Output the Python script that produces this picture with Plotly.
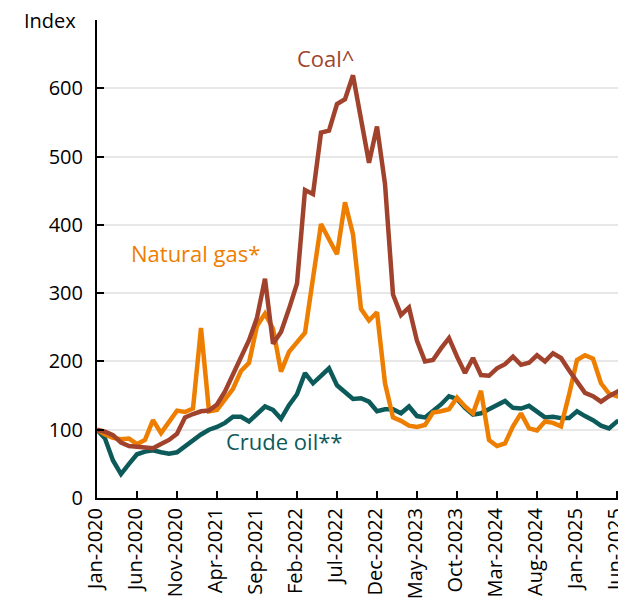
import plotly.graph_objects as go

month_names = ["Jan", "Feb", "Mar", "Apr", "May", "Jun", "Jul", "Aug", "Sep", "Oct", "Nov", "Dec"]
years = [2020, 2021, 2022, 2023, 2024, 2025]
months = [f"{m}-{y}" for y in years for m in month_names][:67]  # Jan-2020 .. Jul-2025

coal = [100, 97, 92, 81, 76, 75, 74, 73, 79, 85, 94, 118, 123, 127, 128, 137, 156, 182, 209, 231,
        264, 321, 226, 243, 277, 314, 451, 445, 535, 538, 577, 584, 619, 558, 491, 544, 460, 298,
        268, 279, 230, 200, 202, 219, 234, 207, 183, 205, 180, 179, 190, 196, 207, 195, 198, 209,
        200, 212, 205, 187, 170, 154, 149, 141, 149, 156, 162]

natural_gas = [100, 93, 88, 86, 87, 79, 85, 114, 95, 112, 128, 126, 131, 249, 127, 129, 144, 160,
               186, 198, 252, 270, 248, 185, 214, 229, 242, 322, 401, 379, 357, 433, 386, 277, 260,
               272, 168, 118, 113, 106, 104, 107, 125, 127, 130, 147, 134, 124, 157, 85, 76, 80,
               105, 124, 102, 99, 112, 110, 105, 151, 202, 209, 204, 168, 153, 149, 158]

crude_oil = [100, 87, 55, 35, 50, 64, 68, 70, 67, 65, 67, 76, 83, 93, 100, 104, 110, 119, 119, 112,
             123, 134, 129, 116, 136, 152, 183, 168, 179, 190, 165, 154, 145, 146, 141, 127, 130,
             130, 124, 134, 120, 118, 127, 137, 149, 145, 132, 122, 124, 130, 136, 142, 132, 131,
             135, 127, 118, 119, 117, 117, 127, 120, 114, 106, 102, 112, 112]

tick_labels = ["Jan-2020", "Jun-2020", "Nov-2020", "Apr-2021", "Sep-2021", "Feb-2022", "Jul-2022",
               "Dec-2022", "May-2023", "Oct-2023", "Mar-2024", "Aug-2024", "Jan-2025", "Jun-2025"]
y_ticks = [0, 100, 200, 300, 400, 500, 600]

colors = {"coal": "#A1432C", "gas": "#EE7E00", "oil": "#0D5A5A"}
FONT = "Open Sans"

fig = go.Figure()
fig.add_trace(go.Scatter(x=months, y=crude_oil, mode="lines",
                         line=dict(color=colors["oil"], width=4.5), name="Crude oil**"))
fig.add_trace(go.Scatter(x=months, y=natural_gas, mode="lines",
                         line=dict(color=colors["gas"], width=4.5), name="Natural gas*"))
fig.add_trace(go.Scatter(x=months, y=coal, mode="lines",
                         line=dict(color=colors["coal"], width=4.5), name="Coal^"))

fig.add_annotation(x=28.6, y=645, text="Coal^", showarrow=False, xref="x", yref="y",
                   font=dict(family=FONT, size=22, color=colors["coal"]))
fig.add_annotation(x=12.3, y=359, text="Natural gas*", showarrow=False, xref="x", yref="y",
                   font=dict(family=FONT, size=22, color=colors["gas"]))
fig.add_annotation(x=23.4, y=84, text="Crude oil**", showarrow=False, xref="x", yref="y",
                   font=dict(family=FONT, size=22, color=colors["oil"]))
fig.add_annotation(x=0, y=700, text="Index", showarrow=False, xref="paper", yref="y",
                   xanchor="right", xshift=-19, yanchor="middle",
                   font=dict(family=FONT, size=20, color="black"))

# The page body adds an 8px offset, so the figure is sized 8px smaller on each axis.
fig.update_layout(
    width=618, height=594,
    margin=dict(l=89, r=1, t=12, b=104),
    paper_bgcolor="white", plot_bgcolor="white",
    showlegend=False,
    font=dict(family=FONT, size=20, color="black"),
)
fig.update_xaxes(
    type="category", range=[0, 66], automargin=False,
    tickmode="array", tickvals=tick_labels, ticktext=tick_labels,
    tickangle=-90, tickfont=dict(family=FONT, size=20, color="black"),
    ticklabelshift=-2, ticklabeloverflow="allow",
    showline=True, linecolor="black", linewidth=2,
    ticks="inside", ticklen=7, tickwidth=2, tickcolor="black",
    showgrid=False, zeroline=False,
)
fig.update_yaxes(
    range=[0, 700], automargin=False, tickmode="array", tickvals=y_ticks,
    tickfont=dict(family=FONT, size=20, color="black"),
    showline=True, linecolor="black", linewidth=2,
    ticks="inside", ticklen=7, tickwidth=2, tickcolor="black",
    showgrid=True, gridcolor="#E8E8E8", gridwidth=2, zeroline=False,
    ticklabelstandoff=8,
    minor=dict(tickmode="array", tickvals=[700], ticks="inside", ticklen=7,
               tickwidth=2, tickcolor="black", showgrid=False),
)

fig.write_html("out.html")
